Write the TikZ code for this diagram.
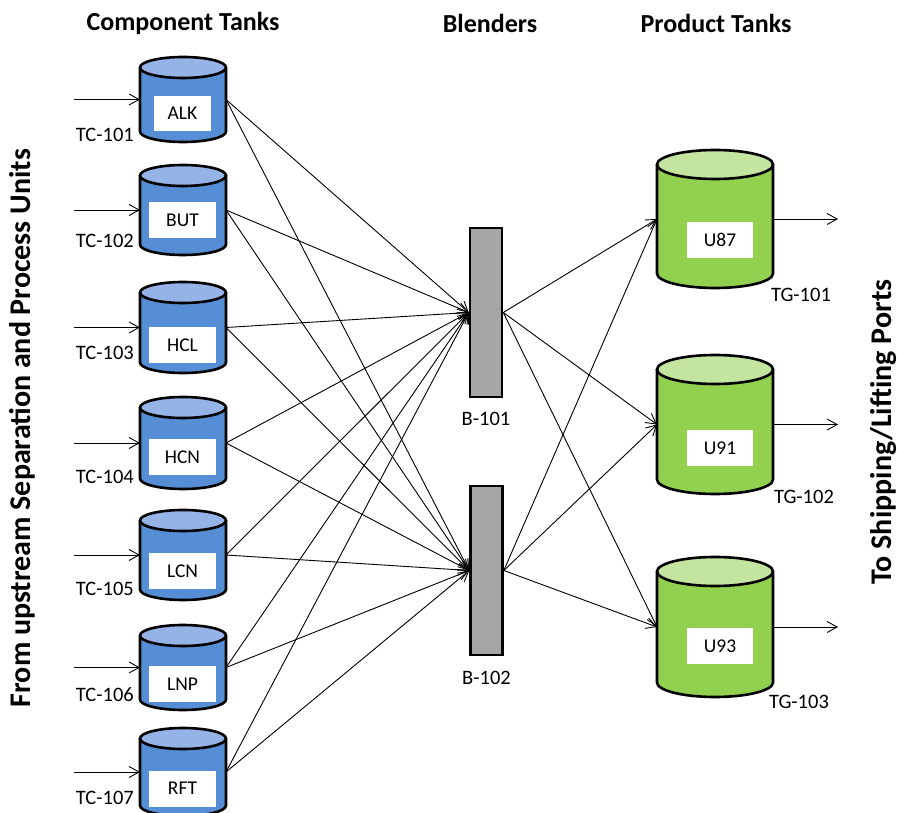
\documentclass[tikz,border=0pt]{standalone}
\usepackage{fontspec}
\setmainfont{Carlito}
\usetikzlibrary{arrows.meta}

\definecolor{compbody}{HTML}{558ED5}
\definecolor{complid}{HTML}{95B3E7}
\definecolor{prodbody}{HTML}{92D050}
\definecolor{prodlid}{HTML}{C3E5A0}
\definecolor{blendfill}{HTML}{A6A6A6}

% Vertical storage tank: name, centre x, top y, half width, height, lid radius, body colour, lid colour
\newcommand{\tank}[8]{%
  \node[tankframe, minimum width={2*#4*1pt}, minimum height={#5*1pt}] (#1) at (#2,{#3+#5/2}) {};
  \fill[#7] ({#2-#4},{#3+#6}) rectangle ({#2+#4},{#3+#5-#6});
  \fill[#7] (#2,{#3+#5-#6}) ellipse[x radius=#4pt, y radius=#6pt];
  \fill[#8] (#2,{#3+#6}) ellipse[x radius=#4pt, y radius=#6pt];
  \draw[tankline] ({#2-#4},{#3+#6}) -- ({#2-#4},{#3+#5-#6})
    arc[start angle=180, end angle=360, x radius=#4pt, y radius=#6pt] -- ({#2+#4},{#3+#6});
  \draw[tankline] (#2,{#3+#6}) ellipse[x radius=#4pt, y radius=#6pt];
}

\begin{document}
\begin{tikzpicture}[x=1pt, y=-1pt,
  tankframe/.style={inner sep=0pt, outer sep=0pt, minimum size=0pt},
  tankline/.style={line width=2.6pt, black},
  tag/.style={fill=white, inner sep=0pt, minimum width=67pt, minimum height=36pt,
              font=\fontsize{19.5}{22}\selectfont},
  plabel/.style={fill=white, inner sep=0pt, minimum width=66pt, minimum height=36pt,
              font=\fontsize{19.5}{22}\selectfont},
  idtext/.style={inner sep=0pt, font=\fontsize{20.5}{24}\selectfont},
  heading/.style={inner sep=0pt, font=\fontsize{26}{30}\selectfont\bfseries},
  sideheading/.style={inner sep=0pt, rotate=90, font=\fontsize{30}{34}\selectfont\bfseries},
  blender/.style={draw, line width=2.6pt, fill=blendfill, inner sep=0pt,
              minimum width=32pt, minimum height=169pt},
  flow/.style={line width=0.9pt, -{Straight Barb[length=10pt, width=11pt, line width=0.9pt]}}
]
\useasboundingbox (0,0) rectangle (898,813);
\clip (0,0) rectangle (898,813);

% headings
\node[heading] (hcomp) at (183,23) {Component Tanks};
\node[heading] (hblend) at (490,23) {Blenders};
\node[heading] (hprod) at (716,23) {Product Tanks};
\node[sideheading] (hfrom) at (22,428) {From upstream Separation and Process Units};
\node[sideheading] (hto) at (884,432) {To Shipping/Lifting Ports};

% component tanks
\tank{c1}{183}{57}{43}{85}{10.5}{compbody}{complid}
\tank{c2}{183}{165}{43}{90}{10.5}{compbody}{complid}
\tank{c3}{183}{282}{43}{91}{10.5}{compbody}{complid}
\tank{c4}{183}{397}{43}{92}{10.5}{compbody}{complid}
\tank{c5}{183}{510}{43}{90}{10.5}{compbody}{complid}
\tank{c6}{183}{625}{43}{85}{10.5}{compbody}{complid}
\tank{c7}{183}{728}{43}{88}{10.5}{compbody}{complid}

\node[tag, minimum width=57pt, minimum height=35pt] (l1) at (182.5,113.5) {ALK};
\node[tag] (l2) at (182.5,220) {BUT};
\node[tag] (l3) at (182.5,345) {HCL};
\node[tag] (l4) at (182.5,457) {HCN};
\node[tag] (l5) at (182.5,571) {LCN};
\node[tag] (l6) at (182.5,684) {LNP};
\node[tag] (l7) at (182.5,788.5) {RFT};

\node[idtext, anchor=east] (n1) at (134,135) {TC-101};
\node[idtext, anchor=east] (n2) at (134,241) {TC-102};
\node[idtext, anchor=east] (n3) at (134,353) {TC-103};
\node[idtext, anchor=east] (n4) at (134,477) {TC-104};
\node[idtext, anchor=east] (n5) at (134,589) {TC-105};
\node[idtext, anchor=east] (n6) at (134,695) {TC-106};
\node[idtext, anchor=east] (n7) at (134,798) {TC-107};

% feed inlets
\foreach \i in {1,...,7} {
  \coordinate (in\i) at ([xshift=-66pt]c\i.west);
  \draw[flow] (in\i) -- (c\i.west);
}

% blenders
\node[blender] (b1) at (486,312.5) {};
\node[blender] (b2) at (486.5,570.5) {};
\node[idtext] (bl1) at (486,419) {B-101};
\node[idtext] (bl2) at (486.5,678) {B-102};

% product tanks
\tank{p1}{715}{150}{58}{138}{14.5}{prodbody}{prodlid}
\tank{p2}{715}{355}{58}{139}{14.5}{prodbody}{prodlid}
\tank{p3}{715}{557}{58}{140}{14.5}{prodbody}{prodlid}

\node[plabel] (u1) at (720,240) {U87};
\node[plabel] (u2) at (720,448) {U91};
\node[plabel] (u3) at (720,646) {U93};

\node[idtext] (g1) at (801,295) {TG-101};
\node[idtext] (g2) at (804,497) {TG-102};
\node[idtext] (g3) at (799,702) {TG-103};

% components to blenders
\foreach \i in {1,...,7} {
  \draw[flow] (c\i.east) -- (b1.west);
  \draw[flow] (c\i.east) -- (b2.west);
}

% blenders to product tanks
\foreach \j in {1,2,3} {
  \draw[flow] (b1.east) -- (p\j.west);
  \draw[flow] (b2.east) -- (p\j.west);
}

% product outlets
\foreach \j in {1,2,3} {
  \coordinate (out\j) at ([xshift=65pt]p\j.east);
  \draw[flow] (p\j.east) -- (out\j);
}
\end{tikzpicture}
\end{document}
